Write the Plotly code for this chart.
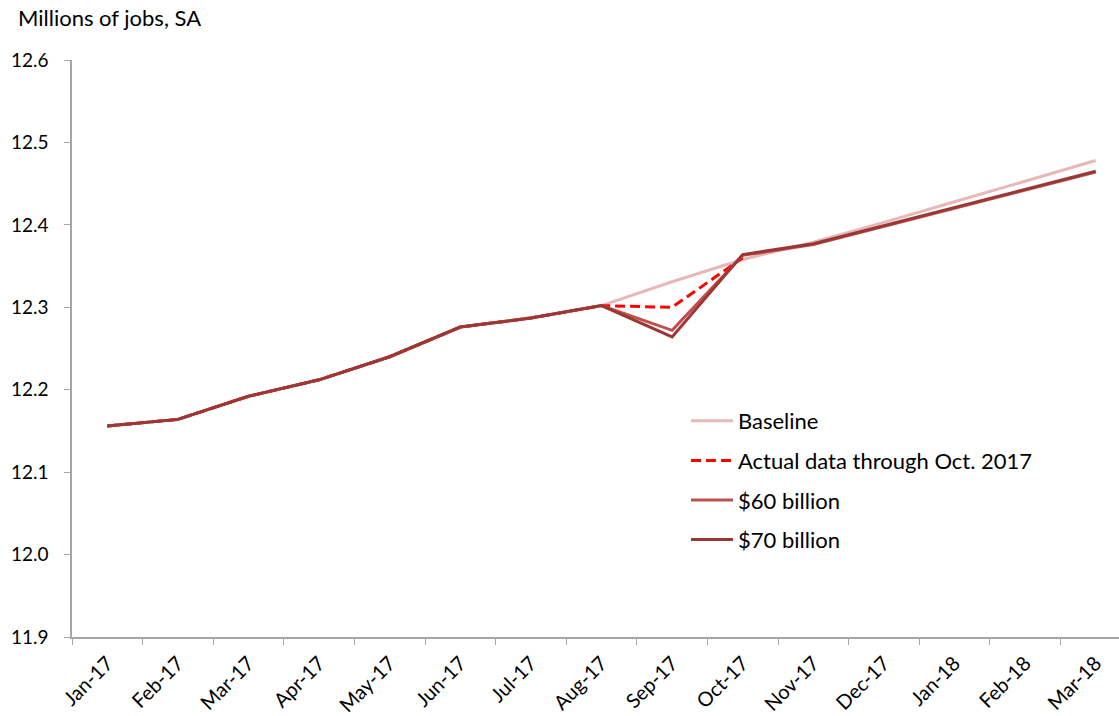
import plotly.graph_objects as go

months = ["Jan-17", "Feb-17", "Mar-17", "Apr-17", "May-17", "Jun-17", "Jul-17", "Aug-17",
          "Sep-17", "Oct-17", "Nov-17", "Dec-17", "Jan-18", "Feb-18", "Mar-18"]

baseline = [12.156, 12.164, 12.192, 12.212, 12.240, 12.276, 12.287, 12.302,
            12.331, 12.358, 12.379, 12.403, 12.428, 12.453, 12.478]
actual = [12.156, 12.164, 12.192, 12.212, 12.240, 12.276, 12.287, 12.302,
          12.300, 12.360]
b60 = [12.156, 12.164, 12.192, 12.212, 12.240, 12.276, 12.287, 12.302,
       12.272, 12.363, 12.376, 12.398, 12.420, 12.442, 12.464]
b70 = [12.156, 12.164, 12.192, 12.212, 12.240, 12.276, 12.287, 12.302,
       12.264, 12.364, 12.377, 12.399, 12.421, 12.443, 12.465]

FONT = "Lato, Carlito, Calibri, sans-serif"
L, T, B = 72, 60, 79
W, H = 1119, 716
PW, PH = W - L, H - T - B

fig = go.Figure()
fig.add_trace(go.Scatter(x=months, y=baseline, mode="lines", name="Baseline",
                         line=dict(color="#E6B9B8", width=3), legendgroup="a"))
fig.add_trace(go.Scatter(x=months[:len(actual)], y=actual, mode="lines",
                         name="Actual data through Oct. 2017",
                         line=dict(color="#FF0000", width=3, dash="10px,5px"), legendgroup="b"))
fig.add_trace(go.Scatter(x=months, y=b60, mode="lines", name="$60 billion",
                         line=dict(color="#C0504D", width=3), legendgroup="c"))
fig.add_trace(go.Scatter(x=months, y=b70, mode="lines", name="$70 billion",
                         line=dict(color="#9B3734", width=3), legendgroup="d"))

fig.update_layout(
    width=W, height=H,
    paper_bgcolor="white", plot_bgcolor="white",
    margin=dict(l=L, r=0, t=T, b=B, autoexpand=False),
    font=dict(family=FONT, size=22, color="#000000"),
    showlegend=True,
    legend=dict(x=(686 - L) / PW, y=(637 - 400) / PH, xanchor="left", yanchor="top",
                font=dict(family=FONT, size=22), bgcolor="rgba(0,0,0,0)",
                tracegroupgap=8, itemwidth=42),
    annotations=[dict(text="Millions of jobs, SA", xref="paper", yref="paper",
                      x=(16 - L) / PW, y=1 + (T - 18) / PH,
                      xanchor="left", yanchor="middle", showarrow=False,
                      font=dict(family=FONT, size=22))],
)

fig.update_xaxes(type="category", range=[-0.5, 14.33], showgrid=False, automargin=False,
                 showline=True, linecolor="#A6A6A6", linewidth=1.5,
                 ticks="outside", ticklen=6, tickcolor="#A6A6A6", tickson="boundaries",
                 tickangle=-45, ticklabelstandoff=5, tickfont=dict(family=FONT, size=20))
fig.update_yaxes(range=[11.9, 12.6], dtick=0.1, tickformat=".1f", showgrid=False,
                 automargin=False,
                 showline=True, linecolor="#A6A6A6", linewidth=1.5,
                 ticks="outside", ticklen=6, tickcolor="#A6A6A6",
                 ticklabelstandoff=12, tickfont=dict(family=FONT, size=19), zeroline=False)

fig.write_html("out.html", config={"displayModeBar": False},
               post_script="document.body.style.margin='0';")
